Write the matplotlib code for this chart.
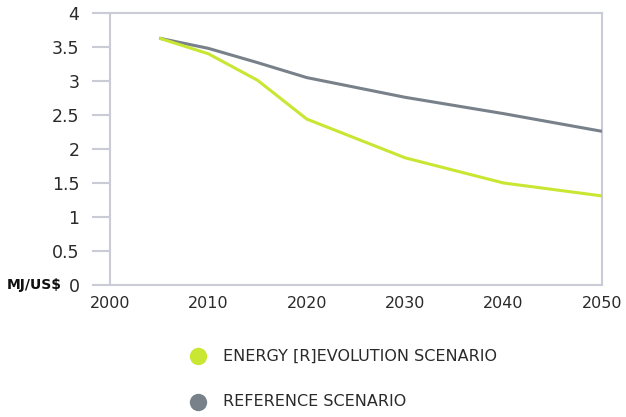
import matplotlib
matplotlib.use("Agg")
import matplotlib.pyplot as plt
from matplotlib.lines import Line2D

years = [2005, 2010, 2015, 2020, 2030, 2040, 2050]
energy_revolution = [3.63, 3.40, 3.01, 2.44, 1.87, 1.50, 1.31]
reference = [3.63, 3.48, 3.27, 3.05, 2.76, 2.52, 2.26]
y_ticks = [0, 0.5, 1, 1.5, 2, 2.5, 3, 3.5, 4]
y_tick_labels = ["0", "0.5", "1", "1.5", "2", "2.5", "3", "3.5", "4"]
x_ticks = [2000, 2010, 2020, 2030, 2040, 2050]
legend_labels = ["ENERGY [R]EVOLUTION SCENARIO", "REFERENCE SCENARIO"]

green = "#c8e632"
grey = "#78818a"
spine = "#c9cbd6"

W, H = 626, 417
fig = plt.figure(figsize=(W / 100, H / 100), dpi=100)
ax = fig.add_axes([110 / W, 1 - 285 / H, (602 - 110) / W, (285 - 13) / H])

ax.plot(years, reference, color=grey, lw=2.2, solid_capstyle="butt", zorder=3)
ax.plot(years, energy_revolution, color=green, lw=2.2, solid_capstyle="butt", zorder=4)

ax.set_xlim(2000, 2050)
ax.set_ylim(0, 4)
ax.set_yticks(y_ticks)
ax.set_yticklabels(y_tick_labels)
ax.set_xticks(x_ticks)
ax.set_xticklabels([str(x) for x in x_ticks])

for s in ax.spines.values():
    s.set_color(spine)
    s.set_linewidth(1.5)

ax.tick_params(axis="y", length=18 * 72 / 100, width=1.5, color=spine, pad=9,
               labelsize=12.5, labelcolor="#2a2a2a")
ax.tick_params(axis="x", length=0, pad=8, labelsize=11.5, labelcolor="#2a2a2a")

fig.text(62 / W, 1 - 285 / H, "MJ/US$", ha="right", va="center", fontsize=10,
         fontweight="bold", color="#111111")

# legend
colors = [green, grey]
ys = [356, 402]
for lab, c, yy in zip(legend_labels, colors, ys):
    fig.add_artist(Line2D([198 / W], [1 - yy / H], marker="o", markersize=12.5,
                          color=c, markeredgewidth=0, transform=fig.transFigure))
    fig.text(223 / W, 1 - yy / H, lab, ha="left", va="center", fontsize=11.5,
             color="#2a2a2a")

fig.savefig("out.png", dpi=100)
